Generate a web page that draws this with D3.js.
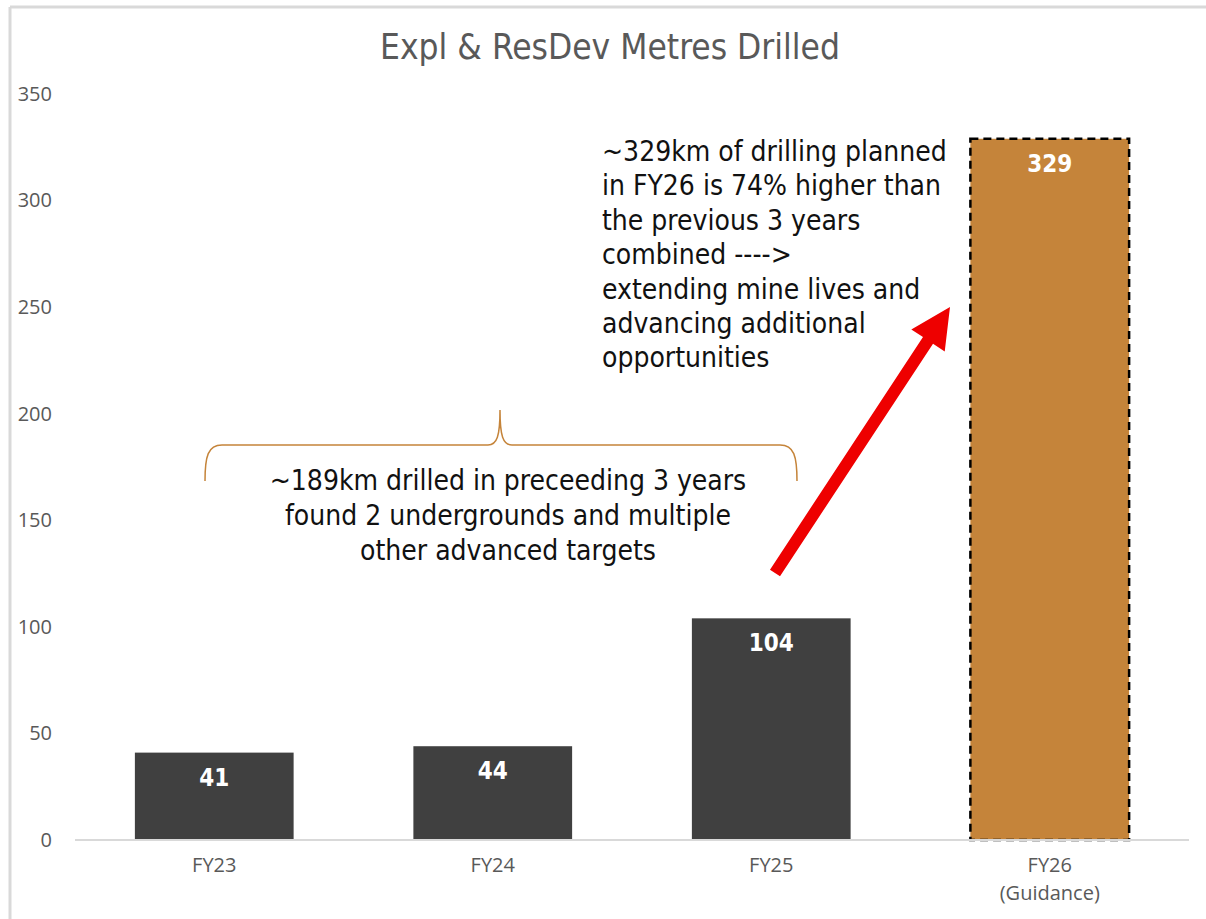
<!DOCTYPE html>
<html lang="en">
<head>
  <meta charset="UTF-8">
  <title>Expl & ResDev Metres Drilled</title>
  <script src="https://d3js.org/d3.v7.min.js"></script>
  <style>
    body { margin: 0; background: #fff; }
    .tick text { font-family: "Open Sans", "DejaVu Sans", sans-serif; fill: #595959; }
    .note { font-family: "DejaVu Sans Condensed", "Liberation Sans Narrow", sans-serif; fill: #111; }
  </style>
</head>
<body>
  <svg id="chart" width="1206" height="919"></svg>

  <script>
    // chart data
    const categories = ["FY23", "FY24", "FY25", "FY26\n(Guidance)"];
    const values = [41, 44, 104, 329];
    const yTicks = [0, 50, 100, 150, 200, 250, 300, 350];

    const noteLeft = [
      "~189km drilled in preceeding 3 years",
      "found 2 undergrounds and multiple",
      "other advanced targets"
    ];
    const noteRight = [
      "~329km of drilling planned",
      "in FY26 is 74% higher than",
      "the previous 3 years",
      "combined ---->",
      "extending mine lives and",
      "advancing additional",
      "opportunities"
    ];

    const svg = d3.select("#chart");

    // frame lines
    svg.append("line").attr("x1", 10).attr("x2", 1206).attr("y1", 7).attr("y2", 7)
      .attr("stroke", "#d9d9d9").attr("stroke-width", 3);
    svg.append("line").attr("x1", 10).attr("x2", 10).attr("y1", 7).attr("y2", 919)
      .attr("stroke", "#d9d9d9").attr("stroke-width", 3);

    // title
    svg.append("text")
      .attr("x", 610).attr("y", 59)
      .attr("text-anchor", "middle")
      .style("font-family", "'DejaVu Sans Condensed', sans-serif")
      .style("font-size", "35px")
      .style("fill", "#595959")
      .text("Expl & ResDev Metres Drilled");

    const x = d3.scaleBand()
      .domain(categories)
      .range([75, 1189])
      .paddingInner(0.43)
      .paddingOuter(0.215);

    const y = d3.scaleLinear()
      .domain([0, 350])
      .range([840, 94]);

    // y axis labels only
    const yAxis = svg.append("g")
      .attr("transform", "translate(55,0)")
      .call(d3.axisLeft(y).tickValues(yTicks).tickSize(0).tickPadding(3));
    yAxis.select(".domain").remove();
    yAxis.selectAll("text").style("font-size", "20px");

    // bars
    svg.selectAll(".bar")
      .data(values)
      .enter().append("rect")
      .attr("class", "bar")
      .attr("x", (d, i) => x(categories[i]))
      .attr("y", d => y(d))
      .attr("width", x.bandwidth())
      .attr("height", d => y(0) - y(d))
      .attr("fill", (d, i) => i === 3 ? "#C5843A" : "#404040")
      .attr("stroke", (d, i) => i === 3 ? "#000" : "none")
      .attr("stroke-width", 2.5)
      .attr("stroke-dasharray", "8,5");

    // value labels
    svg.selectAll(".val")
      .data(values)
      .enter().append("text")
      .attr("class", "val")
      .attr("x", (d, i) => x(categories[i]) + x.bandwidth() / 2)
      .attr("y", d => y(d) + 33)
      .attr("text-anchor", "middle")
      .style("font-family", "'DejaVu Sans Condensed', sans-serif")
      .style("font-weight", "bold")
      .style("font-size", "24px")
      .style("fill", "#fff")
      .text(d => d);

    // x axis
    svg.append("line")
      .attr("x1", 75).attr("x2", 1189)
      .attr("y1", y(0)).attr("y2", y(0))
      .attr("stroke", "#d9d9d9").attr("stroke-width", 2);

    const xAxis = svg.append("g")
      .attr("transform", `translate(0,${y(0)})`)
      .call(d3.axisBottom(x).tickSize(0).tickPadding(0));
    xAxis.select(".domain").remove();
    xAxis.selectAll(".tick text")
      .style("font-size", "20px")
      .attr("dy", null)
      .each(function(d) {
        const t = d3.select(this).text("");
        d.split("\n").forEach((line, k) => {
          t.append("tspan").attr("x", 0).attr("y", 32 + k * 28).text(line);
        });
      });

    // brace over the first three bars
    svg.append("path")
      .attr("d", "M205,481 C205,456 208,445 222,445 L488,445 C497,445 500,436 500,410 C500,436 503,445 512,445 L780,445 C794,445 797,456 797,481")
      .attr("fill", "none")
      .attr("stroke", "#C5843A")
      .attr("stroke-width", 1.5);

    // notes
    const left = svg.append("text").attr("class", "note")
      .attr("text-anchor", "middle")
      .style("font-size", "28px");
    noteLeft.forEach((line, k) => {
      left.append("tspan").attr("x", 508).attr("y", 490 + k * 35).text(line);
    });

    const right = svg.append("text").attr("class", "note")
      .style("font-size", "28px");
    noteRight.forEach((line, k) => {
      right.append("tspan").attr("x", 602).attr("y", 161 + k * 34.4).text(line);
    });

    // red arrow
    const a0 = [775, 573], a1 = [950, 307];
    const dx = a1[0] - a0[0], dy = a1[1] - a0[1];
    const len = Math.hypot(dx, dy);
    const ux = dx / len, uy = dy / len, nx = -uy, ny = ux;
    const shaft = 6, headW = 20, headL = 40;
    const bx = a1[0] - ux * headL, by = a1[1] - uy * headL;
    const pts = [
      [a0[0] + nx * shaft, a0[1] + ny * shaft],
      [bx + nx * shaft, by + ny * shaft],
      [bx + nx * headW, by + ny * headW],
      a1,
      [bx - nx * headW, by - ny * headW],
      [bx - nx * shaft, by - ny * shaft],
      [a0[0] - nx * shaft, a0[1] - ny * shaft]
    ];
    svg.append("polygon")
      .attr("points", pts.map(p => p.join(",")).join(" "))
      .attr("fill", "#EE0000");
  </script>
</body>
</html>
